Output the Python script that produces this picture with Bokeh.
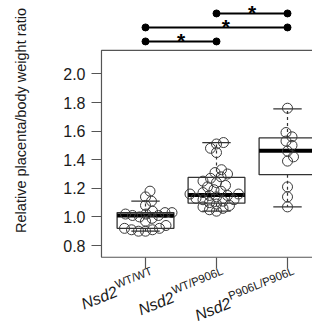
import math
from bokeh.plotting import figure
from bokeh.models import Range1d, LinearAxis, FixedTicker, PrintfTickFormatter
from bokeh.core.properties import value
from bokeh.embed import file_html
from bokeh.resources import INLINE

# ---------------- data ----------------
groups = [1, 2, 3]
main_label = "Nsd2"
sup_labels = ["WT/WT", "WT/P906L", "P906L/P906L"]

wt_wt = [1.18, 1.14, 1.11, 1.08, 1.04, 1.03, 1.03, 1.02, 1.02, 1.01, 1.01,
         1.00, 0.99, 0.97, 0.94, 0.92, 0.92, 0.91, 0.91, 0.90, 0.90]
wt_p906l = [1.52, 1.51, 1.48, 1.45, 1.33, 1.31, 1.30, 1.28, 1.27, 1.25, 1.24,
            1.22, 1.21, 1.19, 1.18, 1.17, 1.16, 1.16, 1.15, 1.15, 1.14, 1.13,
            1.12, 1.12, 1.11, 1.10, 1.09, 1.08, 1.07, 1.06, 1.05, 1.04]
p906l_p906l = [1.76, 1.59, 1.56, 1.53, 1.50, 1.46, 1.42, 1.39, 1.21, 1.14, 1.07]

box_lo = [0.90, 1.04, 1.07]
box_q1 = [0.92, 1.096, 1.295]
box_med = [1.01, 1.154, 1.463]
box_q3 = [1.03, 1.276, 1.552]
box_hi = [1.11, 1.52, 1.756]

y_ticks = [0.8, 1.0, 1.2, 1.4, 1.6, 1.8, 2.0]

cmp_from = [1, 1, 2]
cmp_to = [2, 3, 3]
cmp_star_x = [1.5, 2.13, 2.5]
cmp_text = ["*", "*", "*"]

y_title = "Relative placenta/body weight ratio"

# ---------------- layout ----------------
W, H = 312, 323
XS, YS = 71.0, 143.0                      # px per unit
X0 = 1 - 145 / XS
X1 = X0 + W / XS
Y1 = 1 + 216.4 / YS
Y0 = Y1 - H / YS
FX0, FX1, FY0, FY1 = 0.38, 3.62, 0.718, 2.164   # plot box (R style)
BOXW = 0.8
FONT = "Liberation Sans"
INK = "#1a1a1a"
LINE = "#333333"

p = figure(width=W, height=H, x_range=Range1d(X0, X1), y_range=Range1d(Y0, Y1),
           x_axis_location=None, y_axis_location=None, toolbar_location=None,
           output_backend="svg", min_border=0, outline_line_color=None)
p.grid.visible = False
p.background_fill_color = "white"

# plot box
p.quad(left=[FX0], right=[FX1], bottom=[FY0], top=[FY1], fill_color=None,
       line_color="#555555", line_width=1.2)

# axes
yax = LinearAxis(fixed_location=FX0, ticker=FixedTicker(ticks=y_ticks),
                 formatter=PrintfTickFormatter(format="%.1f"),
                 axis_line_color=None, major_tick_out=10, major_tick_in=0,
                 minor_tick_out=0, minor_tick_in=0,
                 major_tick_line_color="#555555", major_tick_line_width=1.2,
                 major_label_text_font=FONT, major_label_text_font_size="16px",
                 major_label_text_color=INK, major_label_standoff=6)
p.add_layout(yax, "left")
xax = LinearAxis(fixed_location=FY0, ticker=FixedTicker(ticks=groups),
                 axis_line_color=None, major_tick_out=11, major_tick_in=0,
                 minor_tick_out=0, minor_tick_in=0,
                 major_tick_line_color="#555555", major_tick_line_width=1.2,
                 major_label_text_color=None)
p.add_layout(xax, "below")

# boxplots
p.quad(left=[g - BOXW / 2 for g in groups], right=[g + BOXW / 2 for g in groups],
       bottom=box_q1, top=box_q3, fill_color=None, line_color=LINE, line_width=1.3)
p.segment(x0=groups, y0=box_q3, x1=groups, y1=box_hi, line_color=LINE,
          line_width=1.2, line_dash="3 3")
p.segment(x0=groups, y0=box_q1, x1=groups, y1=box_lo, line_color=LINE,
          line_width=1.2, line_dash="3 3")
p.segment(x0=[g - BOXW / 4 for g in groups], y0=box_hi,
          x1=[g + BOXW / 4 for g in groups], y1=box_hi, line_color=LINE, line_width=1.2)
p.segment(x0=[g - BOXW / 4 for g in groups], y0=box_lo,
          x1=[g + BOXW / 4 for g in groups], y1=box_lo, line_color=LINE, line_width=1.2)
p.segment(x0=[g - BOXW / 2 for g in groups], y0=box_med,
          x1=[g + BOXW / 2 for g in groups], y1=box_med, line_color="black", line_width=4)

# beeswarm points
def swarm(vals, d=7.0, step=0.5):
    placed = []
    offs = [0.0] * len(vals)
    order = sorted(range(len(vals)), key=lambda i: vals[i])
    for n, i in enumerate(order):
        y = vals[i] * YS
        k = 0
        found = None
        while found is None:
            if k == 0:
                cands = [0.0]
            else:
                cands = [k * step, -k * step] if n % 2 == 0 else [-k * step, k * step]
            for c in cands:
                if all((c - px) ** 2 + (y - py) ** 2 >= d * d for px, py in placed):
                    found = c
                    break
            k += 1
        placed.append((found, y))
        offs[i] = found / XS
    return offs

for g, vals in zip(groups, [wt_wt, wt_p906l, p906l_p906l]):
    offs = swarm(vals)
    p.scatter(x=[g + o for o in offs], y=vals, size=10, marker="circle",
              fill_color=None, line_color="#3a3a3a", line_width=1)

# significance bars
lev = [FY1 + (9 + 14 * k) / YS for k in range(len(cmp_from))]
p.segment(x0=cmp_from, y0=lev, x1=cmp_to, y1=lev, line_color="black", line_width=2)
p.scatter(x=cmp_from + cmp_to, y=lev + lev, size=7, marker="circle", color="black")
p.text(x=cmp_star_x, y=[l + 1 / YS for l in lev], text=cmp_text,
       text_font=value(FONT), text_font_size="21px", text_font_style="bold",
       text_align="center", text_baseline="alphabetic", text_color="black")

# y title
p.text(x=[X0 + 20 / XS], y=[Y1 - 120 / YS], text=[y_title], angle=math.pi / 2,
       text_font=value(FONT), text_font_size="14.5px", text_align="center",
       text_baseline="alphabetic", text_color=INK)

# x category labels: italic "Nsd2" with superscript genotype
WID = {"W": 0.944, "T": 0.611, "/": 0.278, "P": 0.667, "L": 0.556}
def twidth(s, size):
    return sum(WID.get(ch, 0.556) for ch in s) * size

th = math.radians(22)
c, s_ = math.cos(th), math.sin(th)
SUP_PX, MAIN_PX = 11.5, 16
ex_px, ey_px, raise_px, gap_px = 6.0, 13.0, 6.0, 1.0
ex, ey, mx, my = [], [], [], []
for g, sup in zip(groups, sup_labels):
    w = twidth(sup, SUP_PX)
    sx, sy = ex_px - w * c, ey_px + w * s_
    jx, jy = sx + raise_px * s_ - gap_px * c, sy + raise_px * c + gap_px * s_
    ex.append(g + ex_px / XS)
    ey.append(FY0 - ey_px / YS)
    mx.append(g + jx / XS)
    my.append(FY0 - jy / YS)

p.text(x=mx, y=my, text=[main_label] * len(groups), angle=th,
       text_font=value(FONT), text_font_size=f"{MAIN_PX}px", text_font_style="italic",
       text_align="right", text_baseline="alphabetic", text_color=INK)
p.text(x=ex, y=ey, text=sup_labels, angle=th,
       text_font=value(FONT), text_font_size=f"{SUP_PX}px",
       text_align="right", text_baseline="alphabetic", text_color=INK)

open("out.html", "w").write(file_html(p, INLINE))
